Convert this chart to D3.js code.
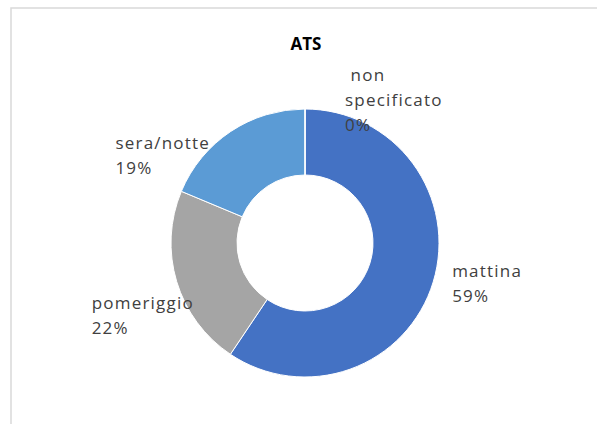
<!DOCTYPE html>
<html lang="it">
<head>
<meta charset="UTF-8">
<script src="https://d3js.org/d3.v7.min.js"></script>
<style>
  body { margin: 0; background: #fff; }
  text { font-family: "Open Sans", "DejaVu Sans", sans-serif; white-space: pre; }
</style>
</head>
<body>
<svg id="chart" width="597" height="424"></svg>
<script>
// data
const title = "ATS";
const categories = ["mattina", "pomeriggio", "sera/notte", "non specificato"];
const values = [59.4, 21.9, 18.7, 0];
const colors = ["#4472C4", "#A5A5A5", "#5B9BD5", "#ED7D31"];
// label text lines (as shown in the chart)
const labelLines = [["mattina"], ["pomeriggio"], ["sera/notte"], [" non", "specificato"]];
// label nudges from the slice's outer point (layout only)
const labelNudge = [[-4, -12], [-62, 20], [-102, 37], [40, -4]];

const svg = d3.select("#chart");
const cx = 305, cy = 243, outerR = 134, innerR = 68;

svg.append("rect")
  .attr("x", 11).attr("y", 8)
  .attr("width", 640).attr("height", 460)
  .attr("fill", "#fff")
  .attr("stroke", "#d9d9d9").attr("stroke-width", 1.5);

svg.append("text")
  .attr("x", 306).attr("y", 50)
  .attr("text-anchor", "middle")
  .attr("font-size", 17).attr("font-weight", "bold")
  .attr("fill", "#000")
  .text(title);

const pie = d3.pie().sort(null).value(d => d)(values);
const arc = d3.arc().innerRadius(innerR).outerRadius(outerR);
const g = svg.append("g").attr("transform", `translate(${cx},${cy})`);

g.selectAll("path").data(pie).enter().append("path")
  .attr("d", arc)
  .attr("fill", (d, i) => colors[i])
  .attr("stroke", "#fff").attr("stroke-width", 1);

const total = d3.sum(values);
const lab = d3.arc().innerRadius(158).outerRadius(158);
pie.forEach((d, i) => {
  const [px, py] = lab.centroid(d);
  const lines = labelLines[i].concat([Math.round(d.data / total * 100) + "%"]);
  const t = g.append("text")
    .attr("font-size", 17)
    .attr("letter-spacing", 1.2)
    .attr("fill", "#404040");
  const x0 = px + labelNudge[i][0];
  const y0 = py + labelNudge[i][1];
  lines.forEach((s, k) => {
    t.append("tspan").attr("x", x0).attr("y", y0 + k * 25).text(s);
  });
});
</script>
</body>
</html>
